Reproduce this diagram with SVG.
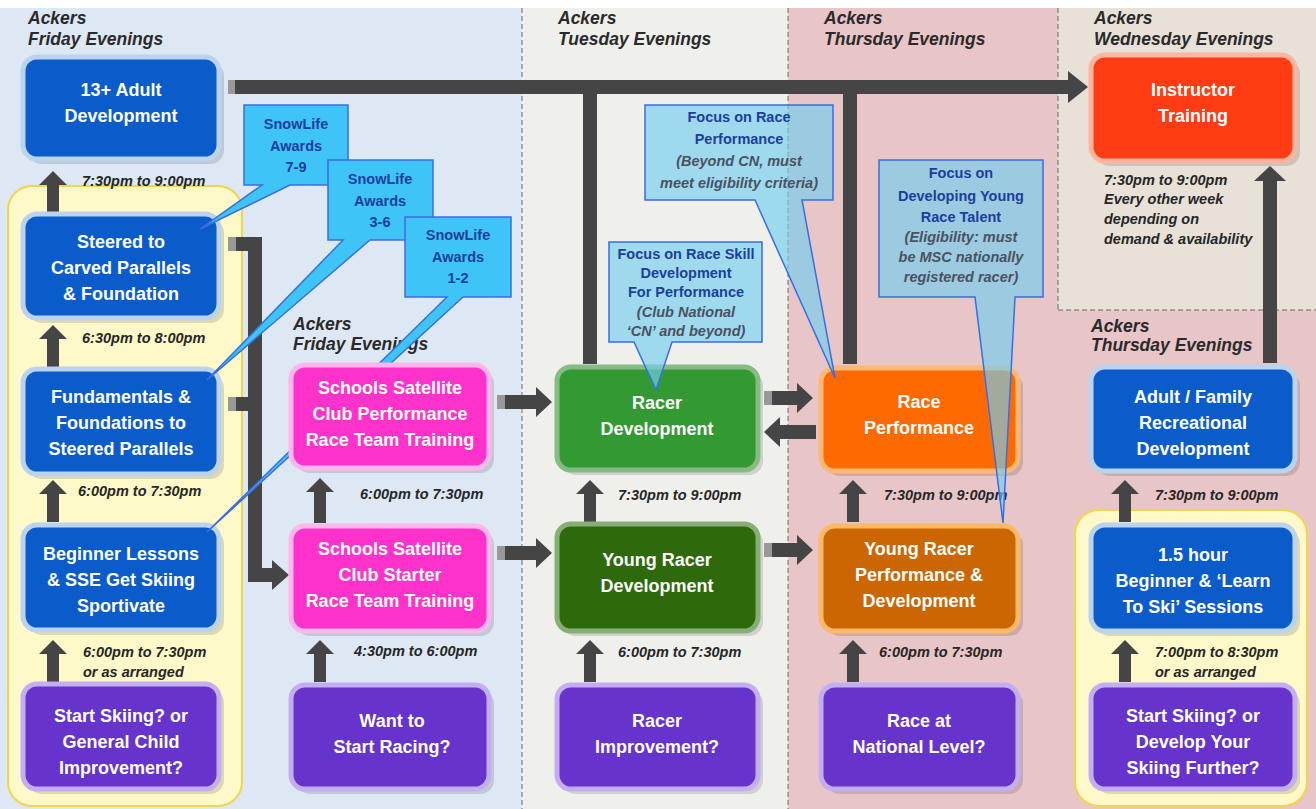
<svg xmlns="http://www.w3.org/2000/svg" width="1316" height="809" viewBox="0 0 1316 809">
<defs>
<style>
.nt{font-family:"Liberation Sans",Arial,sans-serif;font-weight:bold;font-size:18px;fill:#fff;text-anchor:middle}
.hd{font-family:"Liberation Sans",Arial,sans-serif;font-weight:bold;font-style:italic;font-size:17.5px;fill:#2a2a2a}
.tm{font-family:"Liberation Sans",Arial,sans-serif;font-weight:bold;font-style:italic;font-size:14.5px;fill:#262626}
.ct{font-family:"Liberation Sans",Arial,sans-serif;font-weight:bold;font-size:14.5px;fill:#1c3f9c;text-anchor:middle}
.ci{font-family:"Liberation Sans",Arial,sans-serif;font-weight:bold;font-style:italic;font-size:14.5px;fill:#4a5262;text-anchor:middle}
.sh{fill:#000;opacity:0.13}
.ar{fill:#454545}
.stub{fill:#999}
.blue{fill:#0b5ccb;stroke:#bcd3ef;stroke-width:5}
.purp{fill:#6633cc;stroke:#c4aef2;stroke-width:5}
.pink{fill:#ff33cc;stroke:#ffb6ea;stroke-width:5}
.grn{fill:#339a33;stroke:#86bb86;stroke-width:5}
.dgrn{fill:#2e6a0c;stroke:#86ae76;stroke-width:5}
.org{fill:#ff6a00;stroke:#ffb874;stroke-width:5}
.borg{fill:#cc6600;stroke:#ffb868;stroke-width:5}
.red{fill:#ff3c14;stroke:#ffb4a2;stroke-width:5}
.snow{fill:#3fc4f7;stroke:#3a6ee0;stroke-width:1.5}
.focus{fill:#72cdf0;fill-opacity:0.65;stroke:#3a6ee0;stroke-width:1.5}
.dash{stroke:#6a6a6a;stroke-width:1;stroke-dasharray:5,3;fill:none}
</style>
</defs>
<!-- backgrounds -->
<rect x="0" y="0" width="1316" height="809" fill="#ffffff"/>
<rect x="0" y="8" width="522" height="801" fill="#dde8f4"/>
<rect x="522" y="8" width="266" height="801" fill="#efefec"/>
<rect x="788" y="8" width="528" height="801" fill="#e8c5c7"/>
<rect x="1058" y="8" width="258" height="302" fill="#e7e1d8"/>
<line class="dash" x1="522" y1="8" x2="522" y2="809"/>
<line class="dash" x1="788" y1="8" x2="788" y2="809"/>
<line class="dash" x1="1058" y1="8" x2="1058" y2="310"/>
<line class="dash" x1="1058" y1="310" x2="1316" y2="310"/>
<rect x="8" y="186" width="234" height="620" rx="24" fill="#fff8c9" stroke="#f2d450" stroke-width="2"/>
<rect x="1075" y="510" width="232" height="296" rx="24" fill="#fff8c9" stroke="#f2d450" stroke-width="2"/>

<!-- headers -->
<g id="headers">
<text class="hd" x="28" y="24">Ackers</text><text class="hd" x="28" y="45">Friday Evenings</text>
<text class="hd" x="558" y="24">Ackers</text><text class="hd" x="558" y="45">Tuesday Evenings</text>
<text class="hd" x="824" y="24">Ackers</text><text class="hd" x="824" y="45">Thursday Evenings</text>
<text class="hd" x="1094" y="24">Ackers</text><text class="hd" x="1094" y="45">Wednesday Evenings</text>
<text class="hd" x="293" y="330">Ackers</text><text class="hd" x="293" y="350">Friday Evenings</text>
<text class="hd" x="1091" y="332">Ackers</text><text class="hd" x="1091" y="351">Thursday Evenings</text>
</g>

<!-- connectors -->
<g id="connectors">
<polygon class="ar" points="228,80 1068,80 1068,71 1088,87 1068,103 1068,94 228,94"/>
<rect class="ar" x="583" y="90" width="14" height="274"/>
<rect class="ar" x="843" y="90" width="14" height="274"/>
<rect class="stub" x="228" y="80" width="7" height="14"/>
<polygon class="ar" points="228,237 262,237 262,568 272,568 272,560 289,575 272,590 272,582 248,582 248,251 228,251"/>
<rect class="ar" x="228" y="397" width="26" height="14"/>
<rect class="stub" x="228" y="237" width="8" height="14"/>
<rect class="stub" x="228" y="397" width="8" height="14"/>
<polygon class="ar" points="47,212 47,185 39,185 53,171 67,185 59,185 59,212"/>
<polygon class="ar" points="47,367 47,339 39,339 53,325 67,339 59,339 59,367"/>
<polygon class="ar" points="47,522 47,494 39,494 53,480 67,494 59,494 59,522"/>
<polygon class="ar" points="47,682 47,654 39,654 53,640 67,654 59,654 59,682"/>
<polygon class="ar" points="314,523 314,492 306,492 320,478 334,492 326,492 326,523"/>
<polygon class="ar" points="314,682 314,654 306,654 320,640 334,654 326,654 326,682"/>
<polygon class="ar" points="584,522 584,494 576,494 590,480 604,494 596,494 596,522"/>
<polygon class="ar" points="584,682 584,654 576,654 590,640 604,654 596,654 596,682"/>
<polygon class="ar" points="847,522 847,494 839,494 853,480 867,494 859,494 859,522"/>
<polygon class="ar" points="847,682 847,654 839,654 853,640 867,654 859,654 859,682"/>
<polygon class="ar" points="1119,522 1119,494 1111,494 1125,480 1139,494 1131,494 1131,522"/>
<polygon class="ar" points="1119,682 1119,654 1111,654 1125,640 1139,654 1131,654 1131,682"/>
<polygon class="ar" points="1263,363 1263,181 1254,181 1270,166 1286,181 1277,181 1277,363"/>
<polygon class="ar" points="497,395 536,395 536,387 552,402 536,417 536,409 497,409"/>
<polygon class="ar" points="497,546 536,546 536,538 552,553 536,568 536,560 497,560"/>
<polygon class="ar" points="764,391 797,391 797,383 813,398 797,413 797,405 764,405"/>
<polygon class="ar" points="816,425 780,425 780,417 764,432 780,447 780,439 816,439"/>
<polygon class="ar" points="764,543 797,543 797,535 813,550 797,565 797,557 764,557"/>
<rect class="stub" x="497" y="395" width="8" height="14"/>
<rect class="stub" x="497" y="546" width="8" height="14"/>
<rect class="stub" x="764" y="391" width="8" height="14"/>
<rect class="stub" x="764" y="543" width="8" height="14"/>
</g>

<!-- column 1 nodes -->
<g id="n-adult13"><rect class="sh" x="28" y="62" width="196" height="102" rx="14"/><rect class="blue" x="23" y="57" width="196" height="102" rx="14"/><text class="nt" x="121" y="96">13+ Adult</text><text class="nt" x="121" y="122">Development</text></g>
<g id="n-steered"><rect class="sh" x="28" y="219" width="196" height="104" rx="14"/><rect class="blue" x="23" y="214" width="196" height="104" rx="14"/><text class="nt" x="121" y="248">Steered to</text><text class="nt" x="121" y="274">Carved Parallels</text><text class="nt" x="121" y="300">&amp; Foundation</text></g>
<g id="n-fundamentals"><rect class="sh" x="28" y="374" width="196" height="105" rx="14"/><rect class="blue" x="23" y="369" width="196" height="105" rx="14"/><text class="nt" x="121" y="403">Fundamentals &amp;</text><text class="nt" x="121" y="429">Foundations to</text><text class="nt" x="121" y="455">Steered Parallels</text></g>
<g id="n-beginner"><rect class="sh" x="28" y="530" width="196" height="105" rx="14"/><rect class="blue" x="23" y="525" width="196" height="105" rx="14"/><text class="nt" x="121" y="560">Beginner Lessons</text><text class="nt" x="121" y="586">&amp; SSE Get Skiing</text><text class="nt" x="121" y="612">Sportivate</text></g>
<g id="n-start-skiing-child"><rect class="sh" x="28" y="689" width="196" height="105" rx="14"/><rect class="purp" x="23" y="684" width="196" height="105" rx="14"/><text class="nt" x="121" y="722">Start Skiing? or</text><text class="nt" x="121" y="748">General Child</text><text class="nt" x="121" y="774">Improvement?</text></g>

<!-- SnowLife callouts -->
<g id="c-snowlife-7-9"><path class="snow" d="M244,105 H348 V185 H290 L200,229 L262,185 H244 Z"/><text class="ct" x="296" y="129">SnowLife</text><text class="ct" x="296" y="151">Awards</text><text class="ct" x="296" y="172">7-9</text></g>
<g id="c-snowlife-3-6"><path class="snow" d="M328,160 H433 V240 H370 L207,380 L343,240 H328 Z"/><text class="ct" x="380" y="184">SnowLife</text><text class="ct" x="380" y="206">Awards</text><text class="ct" x="380" y="227">3-6</text></g>
<g id="c-snowlife-1-2"><path class="snow" d="M405,217 H511 V297 H463 L207,532 L447,297 H405 Z"/><text class="ct" x="458" y="240">SnowLife</text><text class="ct" x="458" y="262">Awards</text><text class="ct" x="458" y="283">1-2</text></g>

<!-- column 2 -->
<g id="n-club-performance"><rect class="sh" x="296" y="370" width="198" height="103" rx="14"/><rect class="pink" x="291" y="365" width="198" height="103" rx="14"/><text class="nt" x="390" y="394">Schools Satellite</text><text class="nt" x="390" y="420">Club Performance</text><text class="nt" x="390" y="446">Race Team Training</text></g>
<g id="n-club-starter"><rect class="sh" x="296" y="531" width="198" height="105" rx="14"/><rect class="pink" x="291" y="526" width="198" height="105" rx="14"/><text class="nt" x="390" y="555">Schools Satellite</text><text class="nt" x="390" y="581">Club Starter</text><text class="nt" x="390" y="607">Race Team Training</text></g>
<g id="n-want-racing"><rect class="sh" x="296" y="690" width="198" height="104" rx="14"/><rect class="purp" x="291" y="685" width="198" height="104" rx="14"/><text class="nt" x="392" y="727">Want to</text><text class="nt" x="392" y="753">Start Racing?</text></g>

<!-- column 3 -->
<g id="n-racer-development"><rect class="sh" x="562" y="372" width="201" height="103" rx="14"/><rect class="grn" x="557" y="367" width="201" height="103" rx="14"/><text class="nt" x="657" y="409">Racer</text><text class="nt" x="657" y="435">Development</text></g>
<g id="n-young-racer-dev"><rect class="sh" x="562" y="529" width="201" height="107" rx="14"/><rect class="dgrn" x="557" y="524" width="201" height="107" rx="14"/><text class="nt" x="657" y="566">Young Racer</text><text class="nt" x="657" y="592">Development</text></g>
<g id="n-racer-improvement"><rect class="sh" x="562" y="690" width="201" height="104" rx="14"/><rect class="purp" x="557" y="685" width="201" height="104" rx="14"/><text class="nt" x="657" y="727">Racer</text><text class="nt" x="657" y="753">Improvement?</text></g>

<!-- column 4 -->
<g id="n-race-performance"><rect class="sh" x="826" y="373" width="197" height="103" rx="14"/><rect class="org" x="821" y="368" width="197" height="103" rx="14"/><text class="nt" x="919" y="408">Race</text><text class="nt" x="919" y="434">Performance</text></g>
<g id="n-young-racer-perf"><rect class="sh" x="826" y="531" width="197" height="105" rx="14"/><rect class="borg" x="821" y="526" width="197" height="105" rx="14"/><text class="nt" x="919" y="555">Young Racer</text><text class="nt" x="919" y="581">Performance &amp;</text><text class="nt" x="919" y="607">Development</text></g>
<g id="n-race-national"><rect class="sh" x="826" y="690" width="197" height="104" rx="14"/><rect class="purp" x="821" y="685" width="197" height="104" rx="14"/><text class="nt" x="919" y="727">Race at</text><text class="nt" x="919" y="753">National Level?</text></g>

<!-- column 5 -->
<g id="n-instructor"><rect class="sh" x="1096" y="60" width="204" height="106" rx="14"/><rect class="red" x="1091" y="55" width="204" height="106" rx="14"/><text class="nt" x="1193" y="96">Instructor</text><text class="nt" x="1193" y="122">Training</text></g>
<g id="n-adult-family"><rect class="sh" x="1096" y="372" width="204" height="104" rx="14"/><rect class="blue" x="1091" y="367" width="204" height="104" rx="14"/><text class="nt" x="1193" y="403">Adult / Family</text><text class="nt" x="1193" y="429">Recreational</text><text class="nt" x="1193" y="455">Development</text></g>
<g id="n-beginner-learn"><rect class="sh" x="1096" y="530" width="204" height="106" rx="14"/><rect class="blue" x="1091" y="525" width="204" height="106" rx="14"/><text class="nt" x="1193" y="561">1.5 hour</text><text class="nt" x="1193" y="587">Beginner &amp; ‘Learn</text><text class="nt" x="1193" y="613">To Ski’ Sessions</text></g>
<g id="n-start-skiing-further"><rect class="sh" x="1096" y="690" width="204" height="104" rx="14"/><rect class="purp" x="1091" y="685" width="204" height="104" rx="14"/><text class="nt" x="1193" y="722">Start Skiing? or</text><text class="nt" x="1193" y="748">Develop Your</text><text class="nt" x="1193" y="774">Skiing Further?</text></g>

<!-- time labels -->
<g id="times">
<text class="tm" x="82" y="186">7:30pm to 9:00pm</text>
<text class="tm" x="82" y="343">6:30pm to 8:00pm</text>
<text class="tm" x="78" y="496">6:00pm to 7:30pm</text>
<text class="tm" x="83" y="657">6:00pm to 7:30pm</text><text class="tm" x="83" y="677">or as arranged</text>
<text class="tm" x="360" y="499">6:00pm to 7:30pm</text>
<text class="tm" x="354" y="656">4:30pm to 6:00pm</text>
<text class="tm" x="618" y="500">7:30pm to 9:00pm</text>
<text class="tm" x="618" y="657">6:00pm to 7:30pm</text>
<text class="tm" x="884" y="500">7:30pm to 9:00pm</text>
<text class="tm" x="879" y="657">6:00pm to 7:30pm</text>
<text class="tm" x="1155" y="500">7:30pm to 9:00pm</text>
<text class="tm" x="1155" y="657">7:00pm to 8:30pm</text><text class="tm" x="1155" y="677">or as arranged</text>
<text class="tm" x="1104" y="185">7:30pm to 9:00pm</text>
<text class="tm" x="1104" y="204">Every other week</text>
<text class="tm" x="1104" y="224">depending on</text>
<text class="tm" x="1104" y="244">demand &amp; availability</text>
</g>

<!-- Focus callouts -->
<g id="c-focus-race-performance"><path class="focus" d="M645,105 H833 V200 H802 L835,378 L755,200 H645 Z"/><text class="ct" x="739" y="122">Focus on Race</text><text class="ct" x="739" y="144">Performance</text><text class="ci" x="739" y="166">(Beyond CN, must</text><text class="ci" x="739" y="188">meet eligibility criteria)</text></g>
<g id="c-focus-young-talent"><path class="focus" d="M879,160 H1043 V297 H1015 L1003,523 L975,297 H879 Z"/><text class="ct" x="961" y="178">Focus on</text><text class="ct" x="961" y="201">Developing Young</text><text class="ct" x="961" y="222">Race Talent</text><text class="ci" x="961" y="242">(Eligibility: must</text><text class="ci" x="961" y="262">be MSC nationally</text><text class="ci" x="961" y="282">registered racer)</text></g>
<g id="c-focus-race-skill"><path class="focus" d="M609,242 H762 V342 H672 L656,390 L634,342 H609 Z"/><text class="ct" x="686" y="259">Focus on Race Skill</text><text class="ct" x="686" y="278">Development</text><text class="ct" x="686" y="297">For Performance</text><text class="ci" x="686" y="317">(Club National</text><text class="ci" x="686" y="336">‘CN’ and beyond)</text></g>
</svg>
